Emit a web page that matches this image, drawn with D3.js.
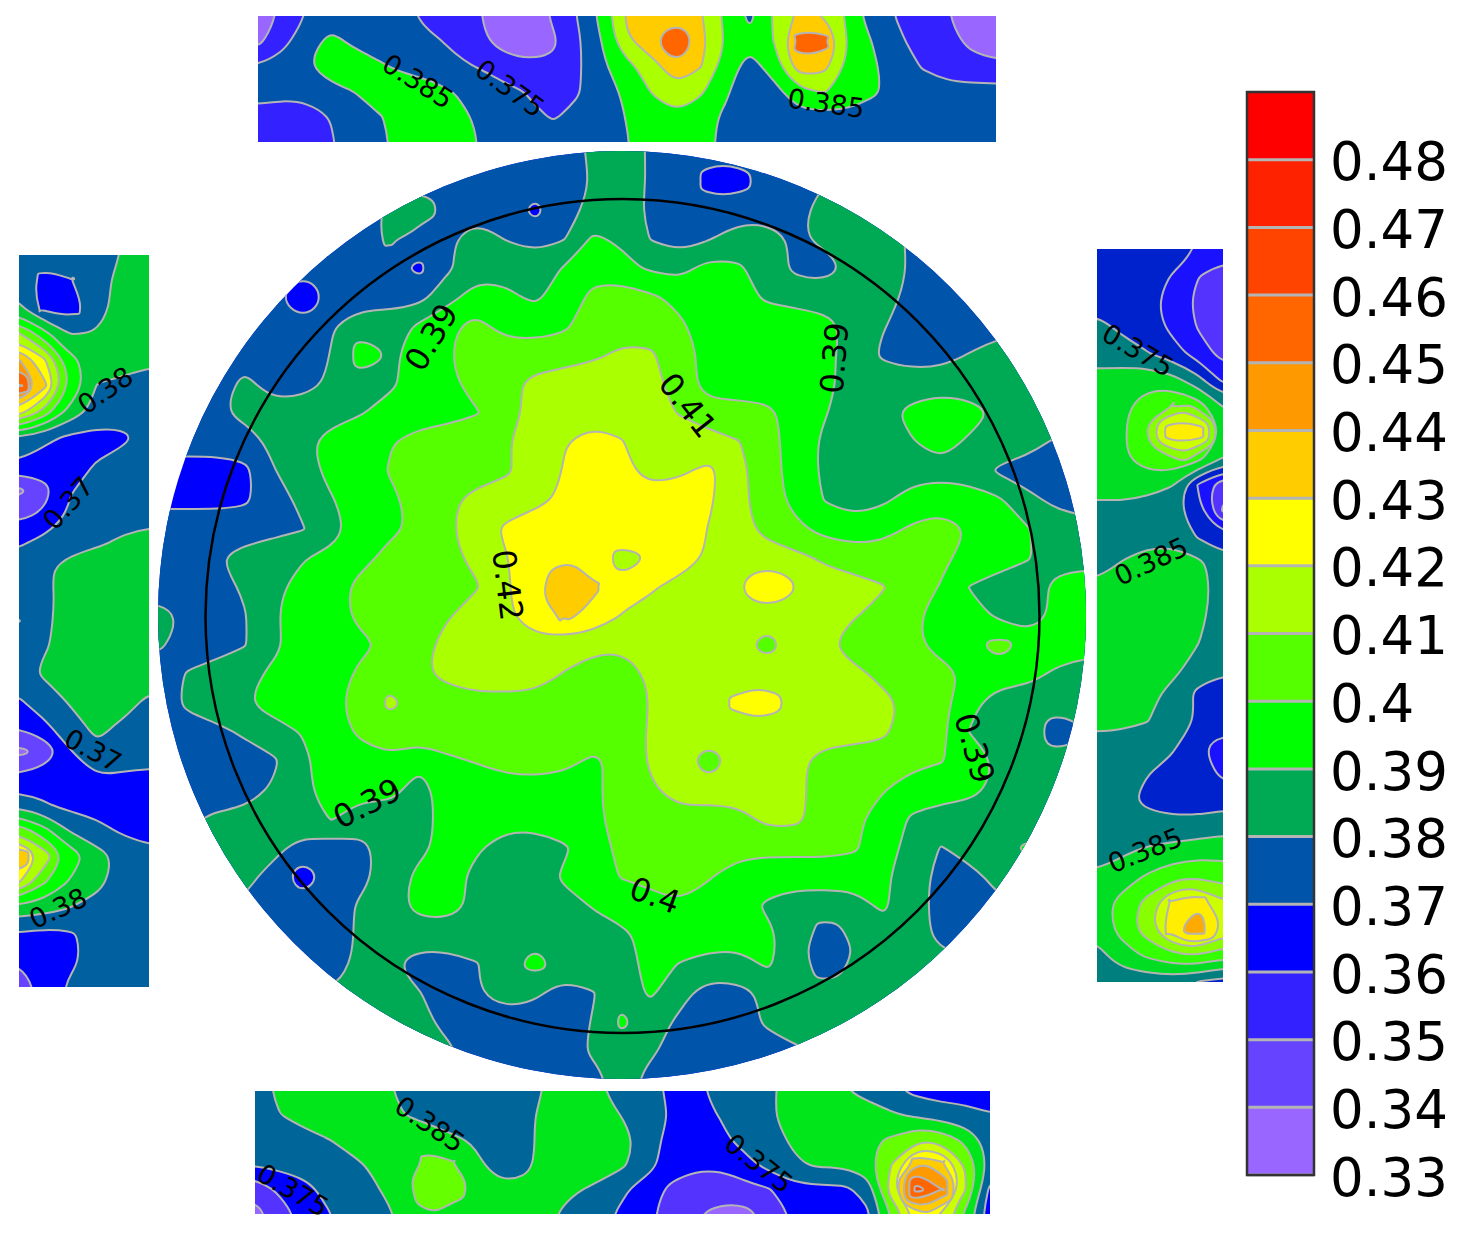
<!DOCTYPE html>
<html>
<head>
<meta charset="utf-8">
<title>contour maps</title>
<script src="https://cdnjs.cloudflare.com/ajax/libs/d3/7.8.5/d3.min.js"></script>
<style>
body {margin:0; background:#fff;}
svg {display:block;}
text {font-family:"DejaVu Sans", sans-serif; fill:#000;}
</style>
</head>
<body>
<div id="chart"></div>
<script>

//main disc, 33 x 33 samples
var discValues = [
[375,375,375,375,375,375,375,375,375,375,375,375,375,375,376,381,385,378,375,374,374,375,375,375,375,375,375,375,375,375,375,375,375],
[375,375,375,375,375,375,375,375,375,375,375,375,375,375,376,380,386,378,378,366,366,374,375,379,382,382,374,375,375,375,375,375,375],
[375,375,375,375,375,375,375,375,381,384,376,375,375,368,376,382,388,376,375,375,375,375,377,383,386,386,377,375,375,375,375,375,375],
[375,375,375,375,375,375,375,375,381,376,378,385,379,375,379,391,388,379,375,379,384,384,378,382,386,386,377,375,375,375,375,375,375],
[375,375,375,375,375,375,375,375,374,368,378,385,387,386,390,396,392,388,386,393,391,385,377,375,383,386,378,375,375,375,375,375,375],
[375,375,375,375,374,363,375,375,375,376,386,394,391,388,393,402,405,401,397,396,393,388,386,386,386,383,377,375,375,375,375,375,375],
[375,375,375,375,375,375,379,385,385,391,398,402,396,395,398,404,406,405,401,395,395,395,395,392,387,380,376,375,375,376,378,378,378],
[375,375,375,375,375,375,380,393,388,393,399,403,405,405,405,408,411,411,403,397,395,395,395,392,385,378,375,376,380,384,385,385,385],
[375,375,375,382,375,376,381,385,388,393,398,402,407,412,415,415,415,412,406,394,394,394,394,391,387,385,385,385,385,385,385,385,385],
[375,375,378,382,384,385,387,389,393,395,396,399,405,413,415,416,416,412,409,405,404,402,395,390,385,387,392,396,393,388,385,385,385],
[375,375,375,375,382,388,392,395,399,403,405,406,409,413,419,423,420,414,414,413,410,404,394,388,385,385,389,393,388,385,383,378,375],
[364,364,364,367,379,386,392,396,400,404,405,406,408,414,420,425,423,415,418,422,412,405,394,388,386,386,386,387,386,378,375,375,375],
[367,367,367,368,375,382,389,394,398,402,408,412,415,417,421,425,426,426,425,421,412,405,396,389,385,388,393,394,393,391,382,377,375],
[375,375,375,375,376,379,386,394,398,401,408,415,421,425,426,426,426,426,425,419,414,406,402,396,394,396,401,405,399,394,390,385,383],
[375,375,379,383,387,389,392,397,402,405,408,411,419,426,428,425,417,421,426,418,416,415,412,408,405,405,407,401,397,394,390,386,385],
[375,375,375,381,388,392,396,402,405,406,408,409,418,427,434,431,423,421,415,416,418,425,419,414,413,410,404,399,389,385,385,392,396],
[383,378,375,379,389,392,397,401,405,407,409,413,418,425,431,427,419,415,415,415,415,415,415,414,410,407,401,396,393,388,383,392,394],
[381,376,375,379,388,393,396,398,401,407,412,415,416,416,414,412,411,412,415,415,414,407,415,411,405,403,401,397,396,402,396,394,393],
[375,380,384,387,391,394,396,401,405,408,412,415,415,414,409,405,405,411,414,415,416,416,416,415,412,407,405,402,398,394,392,388,385],
[375,381,385,389,393,396,398,402,411,405,405,406,406,406,405,404,403,410,415,416,421,422,417,416,415,412,407,403,392,385,385,383,380],
[375,376,377,381,386,390,396,401,404,405,405,405,405,405,405,405,403,411,415,416,416,416,416,415,413,411,405,402,389,386,384,376,380],
[375,375,375,375,378,388,393,396,398,392,398,400,403,404,402,398,402,411,415,406,415,416,412,405,405,405,402,400,396,388,385,383,383],
[375,375,375,375,381,388,393,393,394,384,396,395,395,395,395,398,403,408,414,415,415,415,412,405,403,400,395,394,392,387,384,380,378],
[375,378,381,383,384,386,390,384,382,386,393,395,394,394,396,398,402,404,406,404,406,412,412,404,401,396,388,385,384,385,382,380,378],
[380,381,383,384,382,376,375,377,384,387,393,391,384,384,388,395,402,402,402,402,402,402,402,402,401,394,386,379,383,385,391,380,378],
[380,380,380,382,376,366,375,377,384,392,394,386,384,384,391,396,400,402,402,400,396,394,394,394,393,391,385,376,377,382,382,380,378],
[380,380,380,378,375,375,375,381,386,392,392,388,385,385,386,390,393,396,399,396,394,388,384,384,386,391,384,376,375,378,380,380,380],
[380,380,380,380,378,375,375,381,384,385,386,385,385,385,385,386,388,392,396,396,395,392,384,376,381,385,384,377,375,378,380,380,380],
[380,380,380,380,380,378,375,382,381,375,375,379,385,392,385,385,385,393,389,385,385,391,384,375,381,385,385,383,380,380,380,380,380],
[380,380,380,380,380,380,380,383,384,380,375,379,384,381,376,379,385,391,382,376,377,381,384,384,385,385,385,385,380,380,380,380,380],
[380,380,380,380,380,380,380,380,383,382,377,375,375,375,375,380,391,383,378,375,375,381,385,385,385,382,380,380,380,380,380,380,380],
[380,380,380,380,380,380,380,380,380,380,381,375,375,375,375,381,384,381,375,375,375,375,378,381,382,380,380,380,380,380,380,380,380],
[375,375,375,375,375,375,375,375,375,375,375,375,375,375,375,376,384,376,375,375,375,375,375,375,375,375,375,375,375,375,375,375,375]
];
var discThresholds = [370,380,390,400,410,420,430];
var discColors = ["#0000ff","#0055aa","#00aa55","#00ff00","#55ff00","#aaff00","#ffff00","#ffcc00"];

//strip above the disc, 31 x 6 samples
var topValues = [
[360,366,375,378,378,378,376,372,370,365,358,358,366,375,388,406,408,408,405,392,382,396,406,404,392,378,374,370,365,360,358],
[362,372,380,388,381,378,378,376,373,367,360,358,363,373,385,403,410,422,408,394,388,395,418,418,394,384,376,371,368,362,358],
[375,378,384,392,392,386,381,378,376,374,370,367,366,373,383,391,401,410,405,390,380,390,410,408,392,386,379,374,370,368,367],
[378,378,378,380,385,392,393,390,384,380,377,374,370,374,379,387,395,402,396,386,378,381,392,395,392,386,381,378,378,378,378],
[371,368,370,375,379,384,390,393,390,382,378,376,374,376,379,385,390,393,388,383,378,379,381,381,381,380,378,378,378,378,378],
[368,367,369,374,378,382,390,393,390,384,380,378,378,378,380,384,390,393,389,381,378,378,378,378,378,378,378,378,378,378,378]
];
var topThresholds = [365,375,385,395,405,415];
var topColors = ["#9966ff","#3322ff","#0055aa","#00ff00","#aaff00","#ffcc00","#ff6600"];

//strip below the disc, 31 x 6 samples
var bottomValues = [
[377,388,391,392,391,387,383,379,378,378,378,380,386,390,386,380,377,373,373,377,379,383,388,390,385,381,376,372,370,370,370],
[380,384,389,393,392,390,385,381,378,378,379,382,388,392,390,384,378,374,371,375,378,383,390,392,392,390,386,383,380,378,375],
[378,378,380,384,389,393,394,392,387,383,379,382,388,393,393,388,380,370,368,372,378,381,386,390,391,393,396,404,402,392,380],
[375,377,378,379,382,387,391,396,396,387,380,382,389,392,390,386,378,370,366,366,371,378,383,386,386,391,405,432,428,404,381],
[357,367,372,377,380,384,390,400,398,392,387,387,388,386,382,376,370,362,360,360,361,364,371,372,372,378,412,458,445,405,372],
[352,358,369,374,378,381,386,393,392,390,390,389,386,380,377,373,368,358,355,351,351,358,366,370,370,373,395,418,414,392,368]
];
var bottomThresholds = [355,365,375,385,395,405,415,425,435,445,455];
var bottomColors = ["#9966ff","#5533ff","#0000ff","#006699","#00e61a","#66ff00","#ccff00","#ffff00","#ffcc00","#ff9900","#ff6600","#ff4400"];

//strip left of the disc, 6 x 29 samples
var leftValues = [
[375,375,375,375,380,385],
[375,367,369,377,382,386],
[381,366,366,376,383,386],
[410,392,379,380,386,387],
[440,420,392,384,384,381],
[460,432,398,379,377,376],
[425,405,385,376,375,375],
[378,372,367,366,367,375],
[368,364,366,370,375,375],
[347,357,369,373,375,375],
[358,361,372,376,376,376],
[368,373,375,378,381,384],
[375,378,384,386,387,387],
[375,377,384,388,388,388],
[369,378,383,388,388,388],
[376,379,382,387,388,388],
[376,381,386,388,388,386],
[369,375,381,386,384,378],
[361,368,376,382,378,376],
[347,352,369,378,377,376],
[362,366,369,369,367,366],
[375,370,366,366,366,365],
[405,392,378,372,368,365],
[438,415,395,384,376,373],
[420,400,388,382,375,375],
[385,383,379,376,375,375],
[368,366,368,374,375,375],
[360,365,367,375,375,375],
[356,362,372,375,375,375]
];
var leftThresholds = [350,360,370,380,390,400,410,420,430,440,450,460];
var leftColors = ["#9966ff","#6644ff","#0000ff","#0060a0","#00cc33","#00ff00","#55ff00","#aaff00","#ffff00","#ffcc00","#ff9900","#ff6600","#ff4400"];

//strip right of the disc, 6 x 29 samples
var rightValues = [
[370,370,370,371,364,360],
[370,370,369,364,355,350],
[371,371,367,361,352,348],
[377,373,370,362,354,348],
[380,378,375,369,360,351],
[388,390,392,388,378,362],
[392,393,398,405,400,384],
[391,393,404,433,433,392],
[391,393,400,403,398,384],
[388,390,388,385,364,347],
[382,381,380,378,368,343],
[381,380,381,380,374,368],
[381,385,389,391,387,379],
[387,390,392,392,390,378],
[392,392,392,392,388,378],
[392,392,392,391,385,378],
[392,392,392,387,381,376],
[392,391,387,382,372,371],
[388,387,385,379,374,371],
[380,380,379,376,366,360],
[379,378,375,371,370,362],
[378,377,372,369,369,370],
[380,379,378,378,378,380],
[381,383,386,388,390,391],
[386,390,396,402,404,400],
[390,398,408,427,431,416],
[388,398,410,430,440,420],
[381,390,396,402,404,398],
[378,378,378,378,374,370]
];
var rightThresholds = [345,355,365,375,385,395,405,415,425,435];
var rightColors = ["#7755ff","#5533ff","#1a11ff","#0022cc","#007f7f","#00dd22","#33ff00","#88ff00","#ccff00","#ffee00","#ffaa00"];

//colour bar
var legendTicks = [0.33,0.34,0.35,0.36,0.37,0.38,0.39,0.4,0.41,0.42,0.43,0.44,0.45,0.46,0.47,0.48];
var legendColors = ["#9966ff","#6644ff","#3322ff","#0000ff","#0055aa","#00aa55","#00ff00","#55ff00","#aaff00","#ffff00","#ffcc00","#ff9900","#ff6600","#ff4400","#ff2200","#ff0000"];

//contour labels: text, x, y, angle
var discLabels = [
  ["0.39",431,337,-59],["0.39",834,358,-85],["0.41",688,405,52],["0.42",508,585,83],
  ["0.39",367,803,-27],["0.4",655,895,20],["0.39",975,748,74]
];
var stripLabels = [
  ["0.385",418,81,32],["0.375",510,88,36],["0.385",826,103,8],
  ["0.385",430,1124,34],["0.375",293,1190,30],["0.375",759,1163,38],
  ["0.38",105,390,-35],["0.37",68,503,-48],["0.37",93,750,28],["0.38",58,908,-25],
  ["0.375",1138,350,30],["0.385",1151,561,-25],["0.385",1145,850,-22]
];

var svg = d3.select("#chart").append("svg")
    .attr("width", 1470)
    .attr("height", 1233);

var defs = svg.append("defs");

//disc clip
defs.append("clipPath").attr("id", "clip-disc")
  .append("circle")
    .attr("cx", 622)
    .attr("cy", 615)
    .attr("r", 464);

//draw one filled contour map
function drawField(name, rows, thresholds, colors, xRange, yRange, clipShape){
  var ny = rows.length, nx = rows[0].length;
  var pad = 2; //repeat the edge samples so no contour line runs along the frame

  var xScale = d3.scaleLinear().domain([0, nx - 1]).range(xRange);
  var yScale = d3.scaleLinear().domain([0, ny - 1]).range(yRange);

  var flat = [];
  for (var j = -pad; j < ny + pad; j++){
    for (var i = -pad; i < nx + pad; i++){
      var row = rows[Math.max(0, Math.min(ny - 1, j))];
      flat.push(row[Math.max(0, Math.min(nx - 1, i))]);
    }
  }

  //half a unit down so a sample sitting on a level gives no cusps
  var contours = d3.contours()
      .size([nx + pad * 2, ny + pad * 2])
      .thresholds(thresholds.map(function(t){ return t - 0.5; }))(flat);

  //contour coordinates sit half a cell off the samples
  var smooth = d3.line()
      .x(function(d){ return xScale(d[0] - 0.5 - pad); })
      .y(function(d){ return yScale(d[1] - 0.5 - pad); })
      .curve(d3.curveBasisClosed);
  //little spots would shrink too far with the basis curve
  var spot = d3.line()
      .x(function(d){ return xScale(d[0] - 0.5 - pad); })
      .y(function(d){ return yScale(d[1] - 0.5 - pad); })
      .curve(d3.curveCardinalClosed.tension(-0.6));

  if (!clipShape){
    defs.append("clipPath").attr("id", "clip-" + name)
      .append("rect")
        .attr("x", xRange[0])
        .attr("y", yRange[0])
        .attr("width", xRange[1] - xRange[0])
        .attr("height", yRange[1] - yRange[0]);
  }

  var g = svg.append("g")
      .attr("class", name)
      .attr("clip-path", "url(#clip-" + name + ")");

  //lowest band underneath everything
  g.append("rect")
      .attr("x", xRange[0] - 40)
      .attr("y", yRange[0] - 40)
      .attr("width", xRange[1] - xRange[0] + 80)
      .attr("height", yRange[1] - yRange[0] + 80)
      .style("fill", colors[0]);

  g.selectAll(".band")
      .data(contours)
      .enter()
      .append("path")
      .attr("class", "band")
      .attr("fill-rule", "evenodd")
      .attr("d", function(c){
        var parts = [];
        c.coordinates.forEach(function(poly){
          poly.forEach(function(r){
            var pts = r.slice(0, -1);
            parts.push(pts.length > 8 ? smooth(pts) : spot(pts));
          });
        });
        return parts.join("");
      })
      .style("fill", function(c, i){ return colors[i + 1]; })
      .style("stroke", "#b4b4b4")
      .style("stroke-width", 2);
}

drawField("disc", discValues, discThresholds, discColors, [158, 1086], [152, 1080], true);
drawField("top", topValues, topThresholds, topColors, [258, 996], [16, 142]);
drawField("bottom", bottomValues, bottomThresholds, bottomColors, [255, 990], [1091, 1214]);
drawField("left", leftValues, leftThresholds, leftColors, [19, 149], [255, 987]);
drawField("right", rightValues, rightThresholds, rightColors, [1097, 1223], [249, 982]);

//black reference circle
svg.append("circle")
    .attr("cx", 622.5)
    .attr("cy", 616)
    .attr("r", 417)
    .style("fill", "none")
    .style("stroke", "#000")
    .style("stroke-width", 2.5);

//contour labels
function addLabels(list, size){
  svg.selectAll(".lbl" + size)
      .data(list)
      .enter()
      .append("text")
      .attr("class", "lbl" + size)
      .attr("text-anchor", "middle")
      .attr("dy", "0.36em")
      .attr("transform", function(d){
        return "translate(" + d[1] + "," + d[2] + ") rotate(" + d[3] + ")";
      })
      .style("font-size", size + "px")
      .text(function(d){ return d[0]; });
}
addLabels(discLabels, 32);
addLabels(stripLabels, 27);

//colour bar
var legendY = d3.scaleLinear().domain([0.33, 0.49]).range([1175, 92]);

svg.selectAll(".legendBand")
    .data(legendColors)
    .enter()
    .append("rect")
    .attr("class", "legendBand")
    .attr("x", 1247)
    .attr("width", 67)
    .attr("y", function(d, i){ return legendY(0.34 + i * 0.01); })
    .attr("height", function(d, i){ return legendY(0.33 + i * 0.01) - legendY(0.34 + i * 0.01); })
    .style("fill", function(d){ return d; });

svg.selectAll(".legendLine")
    .data(legendTicks)
    .enter()
    .append("line")
    .attr("class", "legendLine")
    .attr("x1", 1247)
    .attr("x2", 1314)
    .attr("y1", function(d){ return legendY(d); })
    .attr("y2", function(d){ return legendY(d); })
    .style("stroke", "#b4b4b4")
    .style("stroke-width", 3);

svg.append("rect")
    .attr("x", 1247)
    .attr("y", 92)
    .attr("width", 67)
    .attr("height", 1083)
    .style("fill", "none")
    .style("stroke", "#333")
    .style("stroke-width", 2.5);

var legendAxis = d3.axisRight(legendY)
    .tickValues(legendTicks)
    .tickSize(0)
    .tickPadding(16)
    .tickFormat(function(d){ return String(d); });

var axisG = svg.append("g")
    .attr("transform", "translate(1314,0)")
    .call(legendAxis);

axisG.select(".domain").remove();
axisG.selectAll("text")
    .attr("dy", "0.38em")
    .style("font-family", '"DejaVu Sans", sans-serif')
    .style("font-size", "53px")
    .style("fill", "#000");
</script>
</body>
</html>
